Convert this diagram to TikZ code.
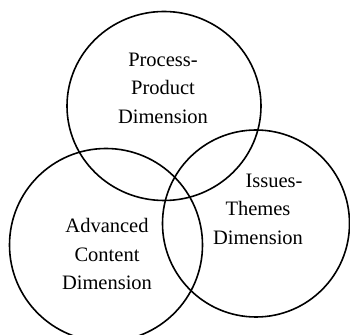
\documentclass[tikz,border=0pt]{standalone}
\usepackage{fontspec}
\setmainfont{Liberation Serif}
\usepackage{tikz}
\usetikzlibrary{shapes.geometric}

\begin{document}
\begin{tikzpicture}[
    x=1pt, y=1pt,
    ring/.style={ellipse, draw, line width=1.6pt, inner sep=0pt},
    label/.style={align=center, font=\fontsize{20.5}{28.5}\selectfont}
  ]
    \useasboundingbox (0,0) rectangle (350,334);

    % The three overlapping circles
    \node[ring, minimum width=194pt, minimum height=189pt] (process) at (164,228) {};
    \node[ring, minimum width=193pt, minimum height=193pt] (content) at (106,89) {};
    \node[ring, minimum width=187pt, minimum height=187pt] (issues) at (256,110.5) {};

    % Circle captions
    \node[label] (processlabel) at (163,246) {Process-\\Product\\Dimension};
    \node[label] (contentlabel) at (107,80) {Advanced\\Content\\Dimension};
    \node[label] (issueslabel) at (258,125) {\hspace*{32pt}Issues-\\Themes\\Dimension};
  \end{tikzpicture}
\end{document}
